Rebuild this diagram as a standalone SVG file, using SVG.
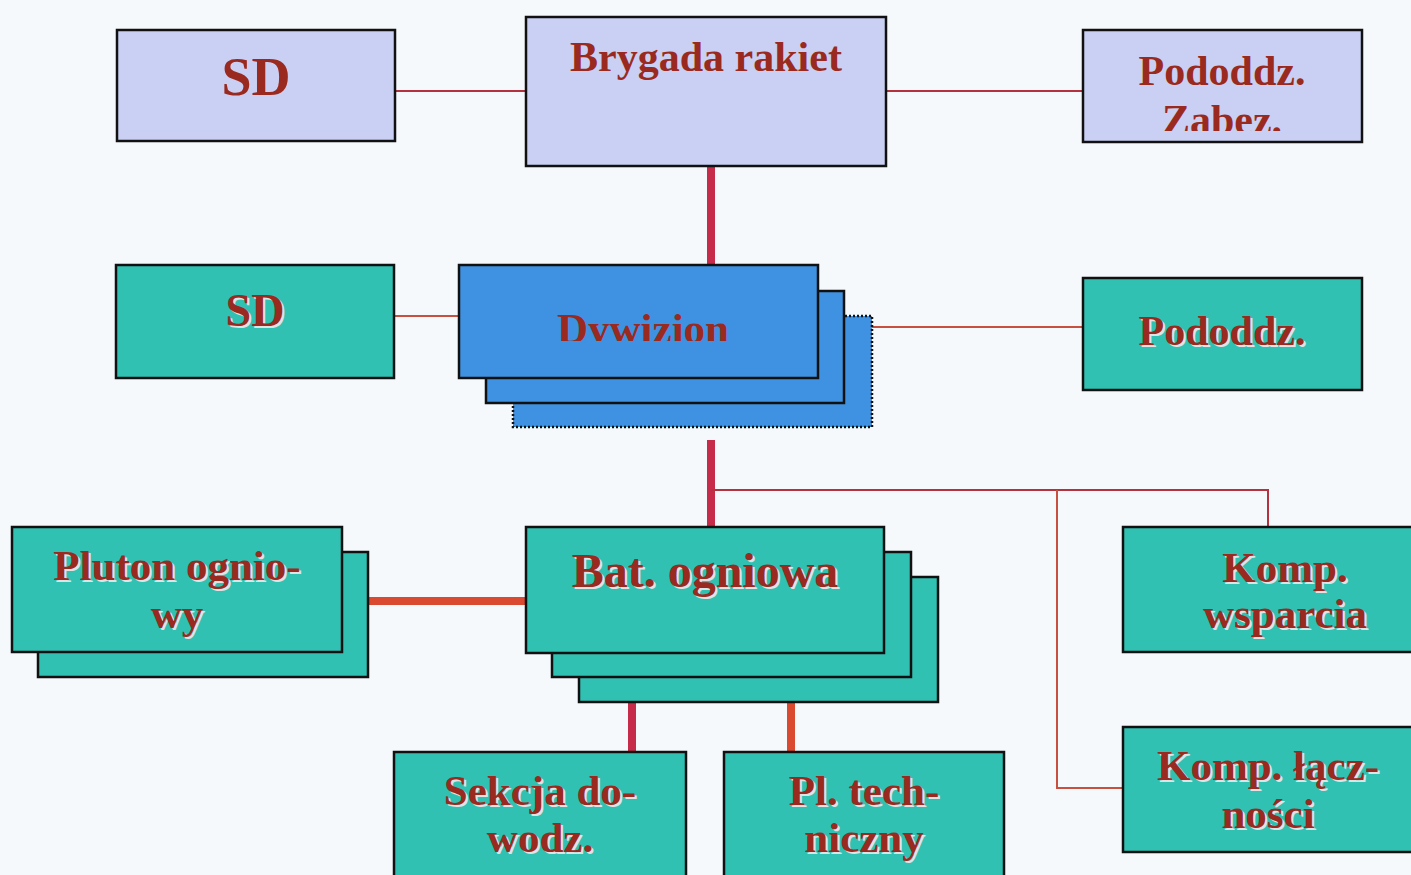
<svg xmlns="http://www.w3.org/2000/svg" width="1411" height="875" viewBox="0 0 1411 875">
<style>
.bx{stroke:#111;stroke-width:2.5}
.lav{fill:#c9d0f3}
.tea{fill:#30c1b3}
.blu{fill:#3f91e1}
.t{font-family:"Liberation Serif","Times New Roman",serif;font-weight:bold;fill:#9a2a20;text-anchor:middle}
.sh{font-family:"Liberation Serif","Times New Roman",serif;font-weight:bold;fill:#dfe3e4;text-anchor:middle}
.thin{stroke:#b3323e;stroke-width:2;fill:none}
.thinO{stroke:#c8503f;stroke-width:2;fill:none}
.thk{stroke:#c62c4a;stroke-width:8;fill:none}
.thkO{stroke:#d94a30;stroke-width:8;fill:none}
</style>
<defs>
<clipPath id="cDyw"><rect x="459" y="265" width="360" height="76"/></clipPath>
<clipPath id="cZab"><rect x="1083" y="30" width="280" height="101"/></clipPath>
</defs>
<rect x="0" y="0" width="1411" height="875" fill="#f5f9fc"/>
<g id="connectors">
<line class="thin" x1="395" y1="91" x2="526" y2="91"/>
<line class="thin" x1="886" y1="91" x2="1083" y2="91"/>
<line class="thk" x1="711" y1="166" x2="711" y2="265"/>
<line class="thinO" x1="394" y1="316" x2="459" y2="316"/>
<line class="thinO" x1="872" y1="327" x2="1083" y2="327"/>
<line class="thk" x1="711" y1="440" x2="711" y2="527"/>
<polyline class="thin" points="711,490 1268,490 1268,527"/>
<polyline class="thinO" points="1057,490 1057,788 1123,788"/>
<line class="thkO" x1="368" y1="601" x2="526" y2="601"/>
<line class="thk" x1="632" y1="702" x2="632" y2="752"/>
<line class="thkO" x1="791" y1="702" x2="791" y2="752"/>
</g>
<g id="sd1">
<rect class="bx lav" x="117" y="30" width="278" height="111"/>
<text class="t" x="256" y="95" font-size="54">SD</text>
</g>
<g id="brygada">
<rect class="bx lav" x="526" y="17" width="360" height="149"/>
<text class="t" x="706" y="71" font-size="42">Brygada rakiet</text>
</g>
<g id="pododdz-zabez">
<rect class="bx lav" x="1083" y="30" width="279" height="112"/>
<text class="t" x="1222" y="85" font-size="42">Pododdz.</text>
<text class="t" x="1222" y="134" font-size="42" clip-path="url(#cZab)">Zabez.</text>
</g>
<g id="sd2">
<rect class="bx tea" x="116" y="265" width="278" height="113"/>
<text class="sh" x="257" y="328" font-size="46">SD</text>
<text class="t" x="255" y="326" font-size="46">SD</text>
</g>
<g id="dywizion">
<rect class="blu" x="513" y="316" width="359" height="111" stroke="#111" stroke-width="2.5" stroke-dasharray="2 2"/>
<rect class="bx blu" x="486" y="291" width="358" height="112"/>
<rect class="bx blu" x="459" y="265" width="359" height="113"/>
<text class="t" x="643" y="343" font-size="43" clip-path="url(#cDyw)">Dywizion</text>
</g>
<g id="pododdz">
<rect class="bx tea" x="1083" y="278" width="279" height="112"/>
<text class="sh" x="1224" y="347" font-size="42">Pododdz.</text>
<text class="t" x="1222" y="345" font-size="42">Pododdz.</text>
</g>
<g id="pluton">
<rect class="bx tea" x="38" y="552" width="330" height="125"/>
<rect class="bx tea" x="12" y="527" width="330" height="125"/>
<text class="sh" x="179" y="582" font-size="43">Pluton ognio-</text>
<text class="t" x="177" y="580" font-size="43">Pluton ognio-</text>
<text class="sh" x="179" y="630" font-size="43">wy</text>
<text class="t" x="177" y="628" font-size="43">wy</text>
</g>
<g id="bat">
<rect class="bx tea" x="579" y="577" width="359" height="125"/>
<rect class="bx tea" x="552" y="552" width="359" height="125"/>
<rect class="bx tea" x="526" y="527" width="358" height="126"/>
<text class="sh" x="707" y="589" font-size="48">Bat. ogniowa</text>
<text class="t" x="705" y="587" font-size="48">Bat. ogniowa</text>
</g>
<g id="komp-wsparcia">
<rect class="bx tea" x="1123" y="527" width="300" height="125"/>
<text class="sh" x="1287" y="584" font-size="43">Komp.</text>
<text class="t" x="1285" y="582" font-size="43">Komp.</text>
<text class="sh" x="1287" y="630" font-size="43">wsparcia</text>
<text class="t" x="1285" y="628" font-size="43">wsparcia</text>
</g>
<g id="komp-lacznosci">
<rect class="bx tea" x="1123" y="727" width="300" height="125"/>
<text class="sh" x="1270" y="782" font-size="43">Komp. łącz-</text>
<text class="t" x="1268" y="780" font-size="43">Komp. łącz-</text>
<text class="sh" x="1270" y="830" font-size="43">ności</text>
<text class="t" x="1268" y="828" font-size="43">ności</text>
</g>
<g id="sekcja">
<rect class="bx tea" x="394" y="752" width="292" height="140"/>
<text class="sh" x="542" y="807" font-size="43">Sekcja do-</text>
<text class="t" x="540" y="805" font-size="43">Sekcja do-</text>
<text class="sh" x="542" y="854" font-size="43">wodz.</text>
<text class="t" x="540" y="852" font-size="43">wodz.</text>
</g>
<g id="pl-tech">
<rect class="bx tea" x="724" y="752" width="280" height="140"/>
<text class="sh" x="866" y="807" font-size="43">Pl. tech-</text>
<text class="t" x="864" y="805" font-size="43">Pl. tech-</text>
<text class="sh" x="866" y="854" font-size="43">niczny</text>
<text class="t" x="864" y="852" font-size="43">niczny</text>
</g>
</svg>
